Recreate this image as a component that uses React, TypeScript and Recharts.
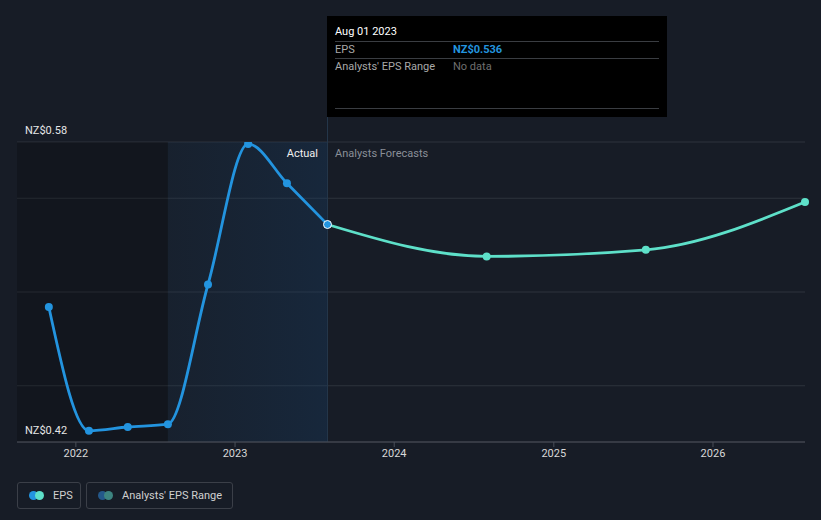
import React from "react";
import {
  ComposedChart,
  Line,
  XAxis,
  YAxis,
  CartesianGrid,
  ReferenceArea,
  ReferenceLine,
} from "recharts";

const epsDates = [
  "2021-10-31",
  "2022-01-31",
  "2022-04-30",
  "2022-07-31",
  "2022-10-31",
  "2023-01-31",
  "2023-04-30",
  "2023-08-01",
];
const epsValues = [0.492, 0.426, 0.428, 0.4295, 0.504, 0.579, 0.558, 0.536];

const forecastDates = ["2024-07-31", "2025-07-31", "2026-07-31"];
const forecastValues = [0.519, 0.5225, 0.548];

const yearTicks = ["2022-01-01", "2023-01-01", "2024-01-01", "2025-01-01", "2026-01-01"];
const yTicks = [0.42, 0.45, 0.5, 0.55, 0.58];
const yLabels = [0.42, 0.58];

const domainStart = "2021-08-19";
const shadeStart = "2022-07-31";
const todayDate = "2023-08-01";

const t = (s: string) => Date.parse(s);

const rows: { t: number; eps?: number; forecast?: number }[] = [
  ...epsDates.map((d, i) => ({ t: t(d), eps: epsValues[i] })),
  ...forecastDates.map((d, i) => ({ t: t(d), forecast: forecastValues[i] })),
];
// the last actual point is also where the forecast starts
rows[epsDates.length - 1].forecast = epsValues[epsValues.length - 1];

const BLUE = "#2394df";
const TEAL = "#5ee0c9";
const FONT = "Roboto, 'Noto Sans', sans-serif";

const YTick = (props: any) => {
  const { x, y, payload } = props;
  if (!yLabels.some((v) => Math.abs(v - payload.value) < 1e-6)) return <g />;
  return (
    <text x={x + 16} y={y - 8} fill="#e6e6e6" fontSize={11} fontFamily={FONT}>
      {`NZ$${Number(payload.value).toFixed(2)}`}
    </text>
  );
};

const EpsDot = (props: any) => {
  const { cx, cy, index } = props;
  if (cx == null || cy == null) return null;
  const last = index === epsDates.length - 1;
  return (
    <circle
      key={`e${index}`}
      cx={cx}
      cy={cy}
      r={4}
      fill={BLUE}
      stroke={last ? "#ffffff" : "none"}
      strokeWidth={last ? 1 : 0}
    />
  );
};

const ForecastDot = (props: any) => {
  const { cx, cy, index } = props;
  if (cx == null || cy == null || index < epsDates.length) return null;
  return <circle key={`f${index}`} cx={cx} cy={cy} r={4} fill={TEAL} />;
};

export default function App() {
  return (
    <div
      style={{
        position: "absolute",
        left: 0,
        top: 0,
        width: 821,
        height: 520,
        background: "#171c26",
        fontFamily: FONT,
        overflow: "hidden",
      }}
    >
      <ComposedChart
        width={821}
        height={520}
        data={rows}
        margin={{ top: 142, right: 16, left: 16, bottom: 48 }}
      >
        <defs>
          <linearGradient id="pastShade" x1="0" y1="0" x2="1" y2="0">
            <stop offset="0%" stopColor="#1a3550" stopOpacity={0.2} />
            <stop offset="100%" stopColor="#17406a" stopOpacity={0.32} />
          </linearGradient>
        </defs>
        <CartesianGrid vertical={false} stroke="#2e333d" />
        <ReferenceArea
          x1={t(domainStart)}
          x2={t(shadeStart)}
          y1={0.42}
          y2={0.58}
          fill="#000000"
          fillOpacity={0.2}
          stroke="none"
        />
        <ReferenceArea
          x1={t(shadeStart)}
          x2={t(todayDate)}
          y1={0.42}
          y2={0.58}
          fill="url(#pastShade)"
          fillOpacity={1}
          stroke="none"
        />
        <XAxis
          dataKey="t"
          type="number"
          scale="time"
          domain={[t(domainStart), t(forecastDates[forecastDates.length - 1])]}
          ticks={yearTicks.map(t)}
          tickFormatter={(v: number) => String(new Date(v).getUTCFullYear())}
          stroke="#4a4f58"
          tick={{ fill: "#d8d8d8", fontSize: 11, fontFamily: FONT }}
          tickSize={5}
          height={30}
        />
        <YAxis
          type="number"
          domain={[0.42, 0.58]}
          ticks={yTicks}
          width={1}
          axisLine={false}
          tickLine={false}
          tick={YTick}
          allowDataOverflow
        />
        <ReferenceLine
          segment={[
            { x: t(todayDate), y: 0.42 },
            { x: t(todayDate), y: 0.5936 },
          ]}
          stroke="#25374a"
          strokeWidth={1}
          ifOverflow="visible"
        />
        <Line
          dataKey="forecast"
          type="monotone"
          stroke={TEAL}
          strokeWidth={2.8}
          dot={<ForecastDot />}
          activeDot={false}
          isAnimationActive={false}
        />
        <Line
          dataKey="eps"
          type="monotone"
          stroke={BLUE}
          strokeWidth={2.8}
          dot={<EpsDot />}
          activeDot={false}
          isAnimationActive={false}
        />
      </ComposedChart>

      {/* past / future labels */}
      <div
        style={{
          position: "absolute",
          right: 821 - 318,
          top: 147,
          color: "#f0f0f0",
          fontSize: 11,
        }}
      >
        Actual
      </div>
      <div style={{ position: "absolute", left: 335, top: 147, color: "#8a8f98", fontSize: 11 }}>
        Analysts Forecasts
      </div>

      {/* tooltip box */}
      <div
        style={{
          position: "absolute",
          left: 327,
          top: 16,
          width: 340,
          height: 101,
          background: "#000000",
          fontSize: 11,
          boxSizing: "border-box",
          padding: "0 8px",
        }}
      >
        <div style={{ color: "#ffffff", marginTop: 8, height: 16, lineHeight: "16px" }}>
          Aug 01 2023
        </div>
        <div
          style={{
            borderTop: "1px solid #3a3d42",
            display: "flex",
            height: 16,
            lineHeight: "16px",
            marginTop: 1,
          }}
        >
          <span style={{ color: "#a9a9a9", width: 118 }}>EPS</span>
          <span style={{ color: BLUE, fontWeight: 700 }}>NZ$0.536</span>
        </div>
        <div
          style={{
            borderTop: "1px solid #3a3d42",
            display: "flex",
            height: 16,
            lineHeight: "16px",
          }}
        >
          <span style={{ color: "#a9a9a9", width: 118 }}>Analysts' EPS Range</span>
          <span style={{ color: "#6f6f6f" }}>No data</span>
        </div>
        <div style={{ borderTop: "1px solid #3a3d42", marginTop: 33 }} />
      </div>

      {/* legend */}
      <div style={{ position: "absolute", left: 17, top: 482, display: "flex", gap: 5 }}>
        {[
          { label: "EPS", c1: BLUE, c2: TEAL, w: 64 },
          { label: "Analysts' EPS Range", c1: "#24588a", c2: "#3d8480", w: 147 },
        ].map((item) => (
          <div
            key={item.label}
            style={{
              width: item.w,
              height: 27,
              boxSizing: "border-box",
              border: "1px solid #3b3f48",
              borderRadius: 3,
              display: "flex",
              alignItems: "center",
              paddingLeft: 11,
              color: "#d0d0d0",
              fontSize: 11,
            }}
          >
            <span style={{ position: "relative", width: 16, height: 9, marginRight: 8 }}>
              <span
                style={{
                  position: "absolute",
                  left: 0,
                  top: 0,
                  width: 9,
                  height: 9,
                  borderRadius: 5,
                  background: item.c1,
                }}
              />
              <span
                style={{
                  position: "absolute",
                  left: 6,
                  top: 0,
                  width: 9,
                  height: 9,
                  borderRadius: 5,
                  background: item.c2,
                }}
              />
            </span>
            {item.label}
          </div>
        ))}
      </div>
    </div>
  );
}
